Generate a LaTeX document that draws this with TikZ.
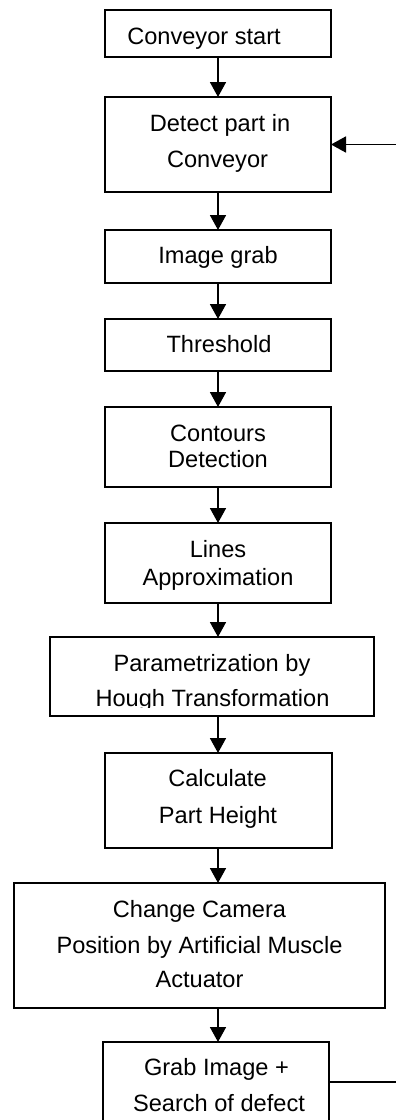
\documentclass[tikz,border=0pt]{standalone}
\usepackage{fontspec}
\setmainfont{Liberation Sans}
\usetikzlibrary{arrows.meta}

\begin{document}
\begin{tikzpicture}[x=1pt,y=-1pt,
  stepbox/.style={draw=black, line width=2pt, rectangle, inner sep=0pt, outer sep=0pt},
  txt/.style={anchor=base, inner sep=0pt, outer sep=0pt, font=\fontsize{23.6}{28}\selectfont},
  flow/.style={draw=black, line width=1.7pt, -{Triangle[length=15pt,width=16pt]}},
  plain/.style={draw=black, line width=1.7pt}]

% canvas
\useasboundingbox (0,0) rectangle (396,1120);
\clip (0,0) rectangle (396,1120);
\fill[white] (0,0) rectangle (396,1120);

% process boxes
\node[stepbox, minimum width=226pt, minimum height=47pt] (b1) at (218,33.5) {};
\node[stepbox, minimum width=226pt, minimum height=95pt] (b2) at (218,144.5) {};
\node[stepbox, minimum width=226pt, minimum height=53pt] (b3) at (218,256.5) {};
\node[stepbox, minimum width=226pt, minimum height=52pt] (b4) at (218,345) {};
\node[stepbox, minimum width=226pt, minimum height=80pt] (b5) at (218,447) {};
\node[stepbox, minimum width=226pt, minimum height=80pt] (b6) at (218,563) {};
\node[stepbox, minimum width=324pt, minimum height=79pt] (b7) at (212,676.5) {};
\node[stepbox, minimum width=227pt, minimum height=95pt] (b8) at (218.5,800.5) {};
\node[stepbox, minimum width=371pt, minimum height=125pt] (b9) at (199.5,945.5) {};
\node[stepbox, minimum width=226pt, minimum height=83pt] (b10) at (216,1083.5) {};

% box texts
\node[txt] (t1) at (204,44) {Conveyor start};
\node[txt] (t2a) at (220,131) {Detect part in};
\node[txt] (t2b) at (217.5,167) {Conveyor};
\node[txt] (t3) at (218,263) {Image grab};
\node[txt] (t4) at (219,352) {Threshold};
\node[txt] (t5a) at (218,441) {Contours};
\node[txt] (t5b) at (218,467) {Detection};
\node[txt] (t6a) at (218,557) {Lines};
\node[txt] (t6b) at (218,585) {Approximation};
\node[txt] (t7a) at (212,671) {Parametrization by};
\begin{scope}
  \clip (50,637) rectangle (374,707);
  \node[txt] (t7b) at (212.5,706) {Hough Transformation};
\end{scope}
\node[txt] (t8a) at (217.5,786) {Calculate};
\node[txt] (t8b) at (218,823) {Part Height};
\node[txt] (t9a) at (199.5,917) {Change Camera};
\node[txt] (t9b) at (199.5,953) {Position by Artificial Muscle};
\node[txt] (t9c) at (199.5,987) {Actuator};
\node[txt] (t10a) at (216.5,1075) {Grab Image +};
\node[txt] (t10b) at (219,1111) {Search of defect};

% downward flow, all on one column
\coordinate (col) at (218,0);
\draw[flow] (b1.south) -- (b2.north);
\draw[flow] (b2.south) -- (b3.north);
\draw[flow] (b3.south) -- (b4.north);
\draw[flow] (b4.south) -- (b5.north);
\draw[flow] (b5.south) -- (b6.north);
\draw[flow] (col |- b6.south) -- (col |- b7.north);
\draw[flow] (col |- b7.south) -- (col |- b8.north);
\draw[flow] (col |- b8.south) -- (col |- b9.north);
\draw[flow] (col |- b9.south) -- (col |- b10.north);

% feedback loop ends
\coordinate (loopin) at (400,144.5);
\coordinate (loopout) at (400,1082);
\draw[flow] (loopin) -- (b2.east);
\draw[plain] (b10.east |- loopout) -- (loopout);

\end{tikzpicture}
\end{document}
